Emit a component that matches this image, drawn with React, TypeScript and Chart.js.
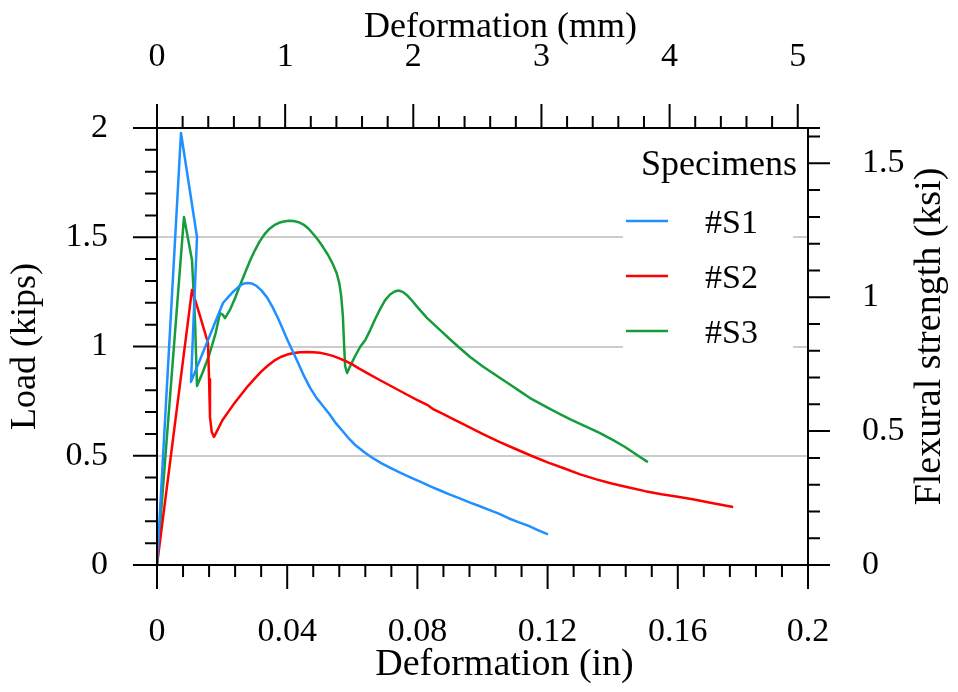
import React, { useEffect, useRef } from 'react';
import { Chart, registerables } from 'chart.js';

Chart.register(...registerables);

// ---- Data (deformation in inches, load in kips) ----
const S1_X = [0, 0.00737, 0.01229, 0.01045, 0.02028, 0.022, 0.0235, 0.025, 0.0264, 0.0278, 0.0292, 0.0305, 0.032, 0.0338, 0.0355, 0.037, 0.0385, 0.04, 0.0418, 0.0435, 0.045, 0.047, 0.049, 0.051, 0.053, 0.055, 0.057, 0.059, 0.061, 0.0635, 0.066, 0.069, 0.072, 0.075, 0.078, 0.081, 0.084, 0.087, 0.09, 0.093, 0.096, 0.099, 0.102, 0.105, 0.108, 0.111, 0.114, 0.117, 0.1201];
const S1_Y = [0, 1.977, 1.501, 0.838, 1.199, 1.228, 1.252, 1.272, 1.287, 1.291, 1.288, 1.278, 1.258, 1.225, 1.18, 1.135, 1.085, 1.032, 0.975, 0.92, 0.87, 0.812, 0.765, 0.728, 0.69, 0.648, 0.613, 0.578, 0.548, 0.518, 0.492, 0.465, 0.442, 0.42, 0.4, 0.38, 0.36, 0.341, 0.322, 0.305, 0.287, 0.27, 0.252, 0.235, 0.214, 0.196, 0.18, 0.16, 0.14];

const S2_X = [0, 0.01075, 0.013, 0.01567, 0.016, 0.01628, 0.0168, 0.01751, 0.0185, 0.02, 0.022, 0.024, 0.026, 0.028, 0.03, 0.032, 0.034, 0.036, 0.038, 0.04, 0.042, 0.044, 0.046, 0.048, 0.05, 0.052, 0.054, 0.056, 0.058, 0.06, 0.062, 0.065, 0.068, 0.071, 0.074, 0.077, 0.08, 0.083, 0.085, 0.088, 0.091, 0.095, 0.1, 0.105, 0.11, 0.115, 0.12, 0.125, 0.13, 0.135, 0.14, 0.145, 0.15, 0.155, 0.16, 0.165, 0.17, 0.177];
const S2_Y = [0, 1.259, 1.15, 1.016, 0.85, 0.677, 0.61, 0.586, 0.615, 0.66, 0.703, 0.745, 0.783, 0.82, 0.853, 0.885, 0.912, 0.935, 0.952, 0.963, 0.97, 0.974, 0.975, 0.974, 0.971, 0.965, 0.957, 0.946, 0.933, 0.918, 0.9, 0.875, 0.85, 0.826, 0.802, 0.778, 0.755, 0.733, 0.712, 0.69, 0.668, 0.638, 0.6, 0.565, 0.532, 0.5, 0.47, 0.443, 0.415, 0.392, 0.372, 0.355, 0.338, 0.324, 0.312, 0.3, 0.285, 0.265];

const S3_X = [0, 0.00829, 0.01075, 0.01167, 0.01229, 0.014, 0.016, 0.018, 0.01935, 0.0202, 0.02089, 0.0225, 0.024, 0.0255, 0.027, 0.0285, 0.03, 0.0315, 0.033, 0.0345, 0.036, 0.0375, 0.039, 0.0405, 0.042, 0.0435, 0.045, 0.0465, 0.048, 0.0495, 0.051, 0.0525, 0.054, 0.0552, 0.056, 0.0566, 0.0571, 0.0575, 0.0578, 0.0584, 0.0595, 0.061, 0.0625, 0.064, 0.0655, 0.067, 0.0685, 0.07, 0.0715, 0.073, 0.0742, 0.0755, 0.077, 0.0785, 0.08, 0.083, 0.0869, 0.09, 0.093, 0.0962, 0.1, 0.103, 0.1054, 0.109, 0.112, 0.1146, 0.118, 0.121, 0.1238, 0.127, 0.13, 0.133, 0.1361, 0.14, 0.1438, 0.147, 0.1508];
const S3_Y = [0, 1.593, 1.396, 1.121, 0.819, 0.88, 0.96, 1.06, 1.153, 1.145, 1.13, 1.17, 1.222, 1.28, 1.335, 1.39, 1.438, 1.48, 1.513, 1.538, 1.555, 1.566, 1.572, 1.575, 1.574, 1.569, 1.558, 1.54, 1.515, 1.487, 1.455, 1.42, 1.378, 1.335, 1.29, 1.23, 1.14, 1.0, 0.91, 0.879, 0.915, 0.96, 1.0, 1.03, 1.075, 1.125, 1.17, 1.21, 1.237, 1.252, 1.256, 1.25, 1.232, 1.207, 1.18, 1.13, 1.076, 1.033, 0.993, 0.952, 0.91, 0.88, 0.856, 0.82, 0.79, 0.764, 0.736, 0.712, 0.691, 0.667, 0.646, 0.625, 0.604, 0.573, 0.54, 0.508, 0.471];

const SERIES_NAMES = ['#S1', '#S2', '#S3'];
const SERIES_COLORS = ['#1e90ff', '#ff0000', '#169c3a'];
const LEGEND_TITLE = 'Specimens';

// ---- Axes ----
const X_MAX_IN = 0.2;
const X_STEP_IN = 0.04;
const X_MINOR_IN = 0.008;
const MM_PER_IN = 25.4;
const X2_STEP_MM = 1;
const X2_MINOR_MM = 0.2;
const Y_MAX_KIPS = 2;
const Y_STEP_KIPS = 0.5;
const Y_MINOR_KIPS = 0.1;
const KSI_PER_KIP = 0.816;
const Y2_STEP_KSI = 0.5;
const Y2_MINOR_KSI = 0.1;

const X_TITLE = 'Deformation (in)';
const X2_TITLE = 'Deformation (mm)';
const Y_TITLE = 'Load (kips)';
const Y2_TITLE = 'Flexural strength (ksi)';

const FONT = "'Liberation Serif', 'Times New Roman', serif";
const TICK_SIZE = 34;
const TITLE_SIZE = 36;
const TITLE_SIZE_BIG = 38;

const fmt = (v: number) => String(Number(v.toFixed(3)));

const toPts = (xs: number[], ys: number[]) => xs.map((x, i) => ({ x, y: ys[i] }));

const framePlugin = {
  id: 'frameTicks',
  afterDraw(chart: any) {
    const ctx = chart.ctx as CanvasRenderingContext2D;
    const { left, right, top, bottom } = chart.chartArea;
    const sx = chart.scales.x, sx2 = chart.scales.x2, sy = chart.scales.y, sy2 = chart.scales.y2;
    const MAJ = 24, MIN = 12;
    const near = (a: number, b: number) => Math.abs(a - Math.round(a / b) * b) < 1e-6;
    ctx.save();
    ctx.strokeStyle = '#000';
    ctx.lineWidth = 2;
    ctx.beginPath();
    ctx.rect(left, top, right - left, bottom - top);
    // bottom ticks
    const nx = Math.round(X_MAX_IN / X_MINOR_IN);
    for (let i = 0; i <= nx; i++) {
      const v = i * X_MINOR_IN;
      const p = sx.getPixelForValue(v);
      const len = near(v, X_STEP_IN) ? MAJ : MIN;
      ctx.moveTo(p, bottom); ctx.lineTo(p, bottom + len);
    }
    // top ticks
    const mmMax = X_MAX_IN * MM_PER_IN;
    for (let i = 0; i * X2_MINOR_MM <= mmMax + 1e-9; i++) {
      const v = i * X2_MINOR_MM;
      const p = sx2.getPixelForValue(v);
      const len = near(v, X2_STEP_MM) ? MAJ : MIN;
      ctx.moveTo(p, top); ctx.lineTo(p, top - len);
    }
    // left ticks
    const ny = Math.round(Y_MAX_KIPS / Y_MINOR_KIPS);
    for (let i = 0; i <= ny; i++) {
      const v = i * Y_MINOR_KIPS;
      const p = sy.getPixelForValue(v);
      const len = near(v, Y_STEP_KIPS) ? MAJ : MIN;
      ctx.moveTo(left, p); ctx.lineTo(left - len, p);
    }
    // right ticks
    const ksiMax = Y_MAX_KIPS * KSI_PER_KIP;
    for (let i = 0; i * Y2_MINOR_KSI <= ksiMax + 1e-9; i++) {
      const v = i * Y2_MINOR_KSI;
      const p = sy2.getPixelForValue(v);
      const len = near(v, Y2_STEP_KSI) ? MAJ - 2 : MIN;
      ctx.moveTo(right, p); ctx.lineTo(right + len, p);
    }
    ctx.moveTo(right, top); ctx.lineTo(right + MIN, top);
    ctx.stroke();

    // axis titles
    ctx.fillStyle = '#000';
    ctx.textAlign = 'center';
    ctx.textBaseline = 'middle';
    const cx = (left + right) / 2 + 20;
    ctx.font = `${TITLE_SIZE_BIG}px ${FONT}`;
    ctx.fillText(X_TITLE, cx + 2, bottom + 100);
    ctx.font = `${TITLE_SIZE}px ${FONT}`;
    ctx.fillText(X2_TITLE, cx - 2, top - 100);
    ctx.save();
    ctx.translate(left - 131, (top + bottom) / 2);
    ctx.rotate(-Math.PI / 2);
    ctx.fillText(Y_TITLE, 0, 0);
    ctx.restore();
    ctx.save();
    ctx.font = `${TITLE_SIZE_BIG}px ${FONT}`;
    ctx.translate(right + 122, (top + bottom) / 2 - 10);
    ctx.rotate(-Math.PI / 2);
    ctx.fillText(Y2_TITLE, 0, 0);
    ctx.restore();

    // legend
    const lgRight = right - 15;
    const lgLeft = right - 185;
    ctx.fillStyle = '#fff';
    ctx.fillRect(lgLeft, top + 12, lgRight - lgLeft, 212);
    ctx.fillStyle = '#000';
    ctx.font = `${TITLE_SIZE}px ${FONT}`;
    ctx.textAlign = 'right';
    ctx.fillText(LEGEND_TITLE, right - 11, top + 38);
    ctx.font = `${TICK_SIZE}px ${FONT}`;
    ctx.textAlign = 'left';
    chart.data.datasets.forEach((ds: any, i: number) => {
      const y = top + 93 + i * 55;
      ctx.strokeStyle = ds.borderColor;
      ctx.lineWidth = 2.5;
      ctx.beginPath();
      ctx.moveTo(right - 182, y); ctx.lineTo(right - 140, y);
      ctx.stroke();
      ctx.fillText(ds.label, right - 103, y + 3);
    });
    ctx.restore();
  },
};

export default function App() {
  const ref = useRef<HTMLCanvasElement | null>(null);
  useEffect(() => {
    if (!ref.current) return;
    const tickFont = { family: FONT, size: TICK_SIZE };
    const chart = new Chart(ref.current, {
      type: 'line',
      data: {
        datasets: [
          { label: SERIES_NAMES[0], data: toPts(S1_X, S1_Y), borderColor: SERIES_COLORS[0] },
          { label: SERIES_NAMES[1], data: toPts(S2_X, S2_Y), borderColor: SERIES_COLORS[1] },
          { label: SERIES_NAMES[2], data: toPts(S3_X, S3_Y), borderColor: SERIES_COLORS[2] },
        ].map((d) => ({ ...d, borderWidth: 2.5, pointRadius: 0, tension: 0, fill: false, borderJoinStyle: 'round' })),
      },
      options: {
        animation: false,
        responsive: false,
        layout: { padding: 0 },
        plugins: { legend: { display: false }, tooltip: { enabled: false } },
        scales: {
          x: {
            type: 'linear', position: 'bottom', min: 0, max: X_MAX_IN,
            grid: { display: false, drawTicks: false },
            border: { display: false },
            ticks: { stepSize: X_STEP_IN, font: tickFont, color: '#000', padding: 47, autoSkip: false, maxRotation: 0, callback: (v: any) => fmt(Number(v)) },
            afterFit: (s: any) => { s.height = 127; },
          },
          x2: {
            type: 'linear', position: 'top', min: 0, max: X_MAX_IN * MM_PER_IN,
            grid: { display: false, drawTicks: false },
            border: { display: false },
            ticks: { stepSize: X2_STEP_MM, includeBounds: false, font: tickFont, color: '#000', padding: 51, autoSkip: false, maxRotation: 0, callback: (v: any) => fmt(Number(v)) },
            afterFit: (s: any) => { s.height = 128; },
          },
          y: {
            type: 'linear', position: 'left', min: 0, max: Y_MAX_KIPS,
            grid: {
              drawTicks: false,
              lineWidth: 2,
              color: (c: any) => (c.tick && c.tick.value > 0 && c.tick.value < Y_MAX_KIPS ? '#cccccc' : 'rgba(0,0,0,0)'),
            },
            border: { display: false },
            ticks: { stepSize: Y_STEP_KIPS, font: tickFont, color: '#000', padding: 49, autoSkip: false, callback: (v: any) => fmt(Number(v)) },
            afterFit: (s: any) => { s.width = 157; },
          },
          y2: {
            type: 'linear', position: 'right', min: 0, max: Y_MAX_KIPS * KSI_PER_KIP,
            grid: { display: false, drawTicks: false },
            border: { display: false },
            ticks: { stepSize: Y2_STEP_KSI, includeBounds: false, font: tickFont, color: '#000', padding: 54, autoSkip: false, callback: (v: any) => fmt(Number(v)) },
            afterFit: (s: any) => { s.width = 150; },
          },
        },
      } as any,
      plugins: [framePlugin],
    });
    return () => chart.destroy();
  }, []);
  return (
    <div style={{ position: 'absolute', left: 0, top: 0, width: 958, height: 692, background: '#fff' }}>
      <canvas ref={ref} width={958} height={692} style={{ display: 'block' }} />
    </div>
  );
}
